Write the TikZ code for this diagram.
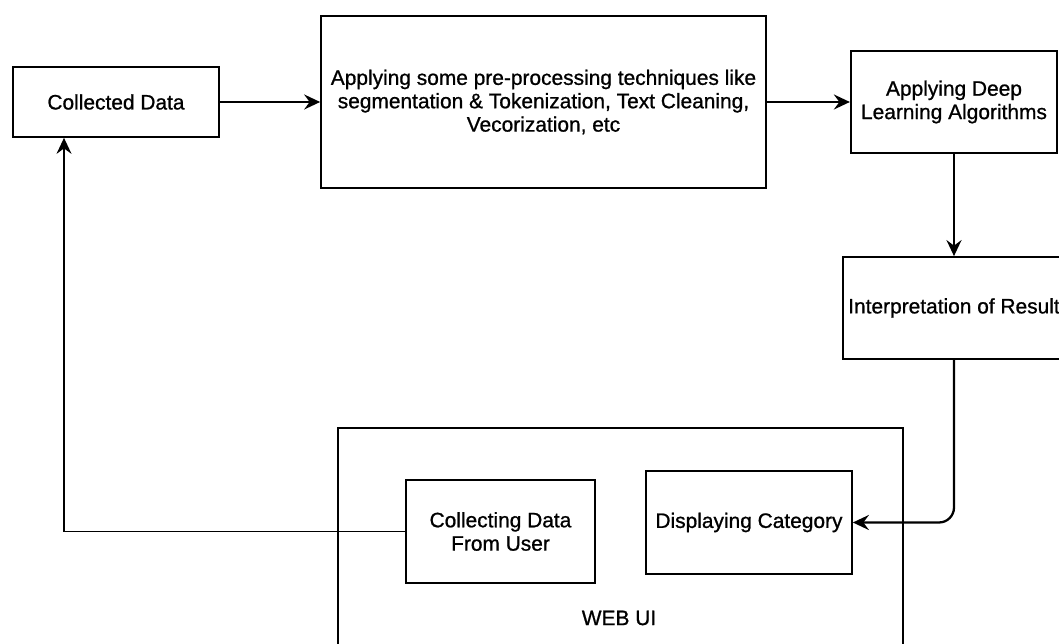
\documentclass[tikz,border=0pt]{standalone}
\usepackage{fontspec}
\setmainfont{Liberation Sans}
\newfontfamily\boxfont[FakeBold=0.9]{Liberation Sans}
\usetikzlibrary{arrows.meta}

\begin{document}
\begin{tikzpicture}[x=0.02cm, y=-0.02cm]
\tikzset{box/.style={draw, line width=1pt, align=center, inner sep=2pt,
                     font=\boxfont\fontsize{11.9}{13.3}\selectfont},
         flow/.style={line width=1.3pt, -{Stealth[length=3.2mm, width=3mm, inset=1.1mm]}}}
\clip (0,0) rectangle (1059,644);
\node[box, minimum width=4.12cm, minimum height=1.4cm] (data) at (116,102) {Collected Data};
\node[box, minimum width=8.9cm, minimum height=3.44cm] (prep) at (543.5,102)
     {Applying some pre-processing techniques like\\ segmentation \& Tokenization, Text Cleaning,\\ Vecorization, etc};
\node[box, line width=1.3pt, minimum width=4.12cm, minimum height=2.04cm] (dl) at (954,102) {Applying Deep\\ Learning Algorithms};
\node[box, minimum width=4.44cm, minimum height=2.04cm] (res) at (954,308) {Interpretation of Result};
\node[box, minimum width=11.3cm, minimum height=4.64cm] (ui) at (620.5,544) {};
\node[font=\boxfont\fontsize{11.9}{13.3}\selectfont] (uitext) at (619,618) {WEB UI};
\node[box, minimum width=3.78cm, minimum height=2.06cm] (user) at (500.5,531.5) {Collecting Data\\ From User};
\node[box, minimum width=4.12cm, minimum height=2.06cm] (cat) at (749,522.5) {Displaying Category};
\draw[flow] (data) -- (prep);
\draw[flow] (prep) -- (dl);
\draw[flow] (dl) -- (res);
\draw[flow, rounded corners=0.3cm] (res.south) |- (cat.east);
\draw[flow, line width=0.9pt] (user.west) -| ([xshift=-1.04cm]data.south);
\end{tikzpicture}
\end{document}
